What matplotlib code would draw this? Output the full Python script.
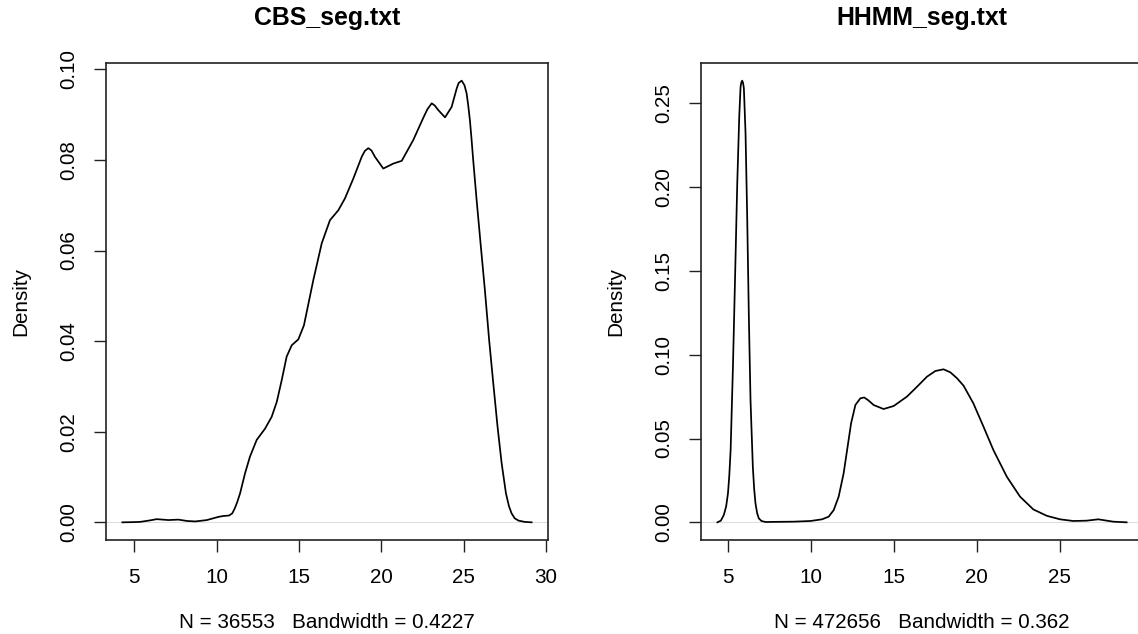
import matplotlib
matplotlib.use("Agg")
import matplotlib.pyplot as plt

# Kernel density estimates of segment values (x, density)
cbs_x = [4.27, 5.0, 5.35, 5.9, 6.36, 7.07, 7.67, 8.2, 8.7, 9.4, 9.8, 10.1, 10.4,
         10.75, 10.95, 11.1, 11.25, 11.42, 11.72, 12.02, 12.43, 12.94, 13.34,
         13.65, 13.95, 14.25, 14.56, 14.96, 15.3, 15.87, 16.38, 16.88, 17.39,
         17.79, 18.3, 18.81, 19.0, 19.21, 19.4, 19.61, 20.12, 20.73, 21.24,
         21.94, 22.55, 22.8, 23.06, 23.25, 23.46, 23.87, 24.27, 24.58, 24.7,
         24.88, 25.05, 25.18, 25.28, 25.38, 25.48, 25.58, 25.79, 26.03, 26.29,
         26.55, 26.8, 27.06, 27.31, 27.57, 27.75, 27.91, 28.1, 28.32, 28.7,
         29.13]
cbs_y = [0.0, 0.00005, 0.0001, 0.0004, 0.0007, 0.0005, 0.0006, 0.0003, 0.0002,
         0.0005, 0.0009, 0.0012, 0.0014, 0.0015, 0.0020, 0.0031, 0.0045, 0.0064,
         0.0108, 0.0145, 0.0182, 0.0207, 0.0233, 0.0266, 0.0314, 0.0366, 0.0391,
         0.0404, 0.0435, 0.0535, 0.0616, 0.0667, 0.0689, 0.0715, 0.0759, 0.0807,
         0.0820, 0.0826, 0.0821, 0.0807, 0.0781, 0.0792, 0.0798, 0.0844, 0.0893,
         0.0912, 0.0925, 0.0920, 0.0910, 0.0894, 0.0917, 0.0958, 0.0970, 0.0975,
         0.0965, 0.0947, 0.0920, 0.0888, 0.0846, 0.0800, 0.0711, 0.0615, 0.0513,
         0.0402, 0.0307, 0.0211, 0.0130, 0.0064, 0.0036, 0.0020, 0.0009, 0.0004,
         0.0001, 0.0]

hhmm_x = [4.34, 4.55, 4.73, 4.87, 4.98, 5.06, 5.14, 5.28, 5.4, 5.54, 5.66, 5.74,
          5.79, 5.84, 5.89, 5.94, 6.04, 6.14, 6.24, 6.34, 6.48, 6.56, 6.64,
          6.74, 6.84, 7.0, 7.25, 8.0, 8.95, 9.96, 10.66, 11.06, 11.36, 11.66,
          11.96, 12.2, 12.41, 12.67, 12.97, 13.2, 13.45, 13.77, 14.37, 14.98,
          15.78, 16.39, 16.99, 17.5, 17.99, 18.4, 18.8, 19.2, 19.79, 20.4, 21.0,
          21.81, 22.61, 23.41, 24.22, 25.02, 25.82, 26.63, 27.33, 28.23, 29.04]
hhmm_y = [0.0, 0.0010, 0.0044, 0.0095, 0.0173, 0.0280, 0.0431, 0.0929, 0.1426,
          0.2023, 0.2420, 0.2599, 0.2626, 0.2635, 0.2622, 0.2589, 0.2321, 0.1823,
          0.1227, 0.0730, 0.0332, 0.0200, 0.0113, 0.0055, 0.0024, 0.0008, 0.0002,
          0.0003, 0.0004, 0.0008, 0.0018, 0.0034, 0.0073, 0.0153, 0.0292, 0.0451,
          0.0591, 0.0700, 0.0740, 0.0745, 0.0728, 0.0700, 0.0676, 0.0694, 0.0750,
          0.0809, 0.0869, 0.0903, 0.0913, 0.0895, 0.0860, 0.0815, 0.0710, 0.0571,
          0.0431, 0.0272, 0.0153, 0.0077, 0.0039, 0.0018, 0.0008, 0.0010, 0.0018,
          0.0004, 0.0]

titles = ["CBS_seg.txt", "HHMM_seg.txt"]
subtitles = ["N = 36553   Bandwidth = 0.4227", "N = 472656   Bandwidth = 0.362"]
cbs_xticks = [5, 10, 15, 20, 25, 30]
cbs_yticks = [0.00, 0.02, 0.04, 0.06, 0.08, 0.10]
hhmm_xticks = [5, 10, 15, 20, 25]
hhmm_yticks = [0.00, 0.05, 0.10, 0.15, 0.20, 0.25]

plt.rcParams["font.family"] = ["Liberation Sans", "DejaVu Sans"]

W, H = 1138, 634
fig = plt.figure(figsize=(W / 100, H / 100), dpi=100)


def rect(left, top, right, bottom):
    return [left / W, 1 - bottom / H, (right - left) / W, (bottom - top) / H]


ax_h = 540 - 63
ax_w = 442

panels = [
    (rect(106, 63, 548, 540), cbs_x, cbs_y, cbs_xticks, cbs_yticks),
    (rect(701, 63, 1143, 540), hhmm_x, hhmm_y, hhmm_xticks, hhmm_yticks),
]

for i, (pos, xs, ys, xt, yt) in enumerate(panels):
    ax = fig.add_axes(pos)
    ax.axhline(0, color="#dcdcdc", lw=0.7, zorder=1)
    ax.plot(xs, ys, color="black", lw=1.25, zorder=3,
            solid_joinstyle="round", antialiased=True)
    ax.margins(x=0.04, y=0.04)
    ax.set_xticks(xt)
    ax.set_xticklabels([str(v) for v in xt])
    ax.set_yticks(yt)
    ax.set_yticklabels(["%.2f" % v for v in yt], rotation=90, va="center")
    ax.tick_params(axis="both", length=8.9, width=1.0, color="#222222",
                   labelsize=14.9, pad=11)
    for sp in ax.spines.values():
        sp.set_color("#222222")
        sp.set_linewidth(1.2)
    ax.text(0.5, 1 + 45.5 / ax_h, titles[i], transform=ax.transAxes,
            ha="center", va="center", fontsize=17.9, fontweight="bold")
    ax.text(0.5, -82 / ax_h, subtitles[i], transform=ax.transAxes,
            ha="center", va="center", fontsize=14.9)
    ax.text(-85 / ax_w, 0.5, "Density", transform=ax.transAxes, rotation=90,
            ha="center", va="center", fontsize=14.9)

fig.savefig("out.png", dpi=100, facecolor="white")
